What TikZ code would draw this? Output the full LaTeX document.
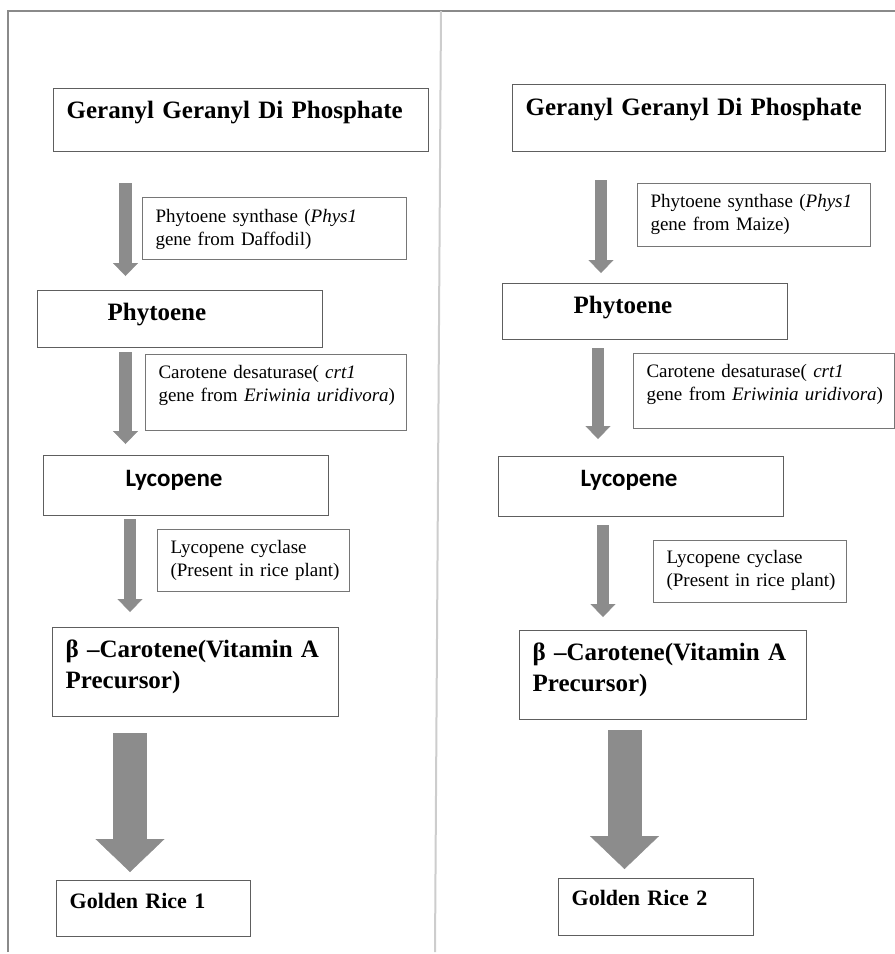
\documentclass[tikz,border=0pt]{standalone}
\usepackage{fontspec}
\setmainfont{Liberation Serif}
\newfontfamily\lycfont{Carlito}
\usetikzlibrary{arrows.meta}

\definecolor{boxline}{HTML}{5E5E5E}
\definecolor{arrowgray}{HTML}{8C8C8C}
\definecolor{frameline}{HTML}{8A8A8A}
\definecolor{divline}{HTML}{CDCDCD}

\begin{document}
\begin{tikzpicture}[
  x=1pt, y=-1pt,
  stagebox/.style = {rectangle, draw=boxline, line width=1.3pt,
                     anchor=north west, inner sep=0pt, align=left,
                     font=\fontsize{25}{31}\selectfont\bfseries},
  enzbox/.style   = {rectangle, draw=boxline!85, line width=1.1pt,
                     anchor=north west, inner sep=0pt, align=left,
                     font=\fontsize{19}{23}\selectfont},
  textindent/.style = {execute at begin node={\leftskip=#1}},
  arr/.style    = {line width=12.5pt, arrowgray,
                   -{Triangle[width=25pt,length=13pt,line width=0.4pt]}},
  bigarr/.style = {line width=34pt, arrowgray,
                   -{Triangle[width=69pt,length=33pt,line width=0.4pt]}},
]
\useasboundingbox (0,0) rectangle (895,954);

%% frame of the two panels
\draw[frameline, line width=1.3pt] (8,952) -- (8,11) -- (895,11);
\draw[divline, line width=2pt] (441,11) -- (435,952);

%%-----------------------------------------------------------
%% left panel -- Golden Rice 1
%%-----------------------------------------------------------
\node[stagebox, textindent=13pt, text width=375pt,
      text height=30pt, text depth=33pt] (ggpp1) at (53,88)
  {Geranyl Geranyl Di Phosphate};

\node[enzbox, textindent=13pt, text width=264pt,
      text height=25pt, text depth=37pt] (psy1) at (142,197)
  {Phytoene synthase (\textit{Phys1}\\gene from Daffodil)};

\node[stagebox, textindent=70pt, text width=285pt,
      text height=30pt, text depth=27pt] (phyt1) at (37,290)
  {Phytoene};

\node[enzbox, textindent=13pt, text width=261pt,
      text height=24pt, text depth=52pt] (crt1) at (145,354)
  {Carotene desaturase( \textit{crt1}\\gene from \textit{Eriwinia uridivora})};

\node[stagebox, font=\fontsize{25}{31}\selectfont\lycfont\bfseries,
      textindent=82pt, text width=285pt,
      text height=31pt, text depth=29pt] (lyco1) at (43,455)
  {Lycopene};

\node[enzbox, textindent=13pt, text width=192pt,
      text height=24pt, text depth=38pt] (lcy1) at (157,529)
  {Lycopene cyclase\\(Present in rice plant)};

\node[stagebox, textindent=13pt, text width=286pt,
      text height=30pt, text depth=59pt] (bcar1) at (52,627)
  {β –Carotene(Vitamin A\\Precursor)};

\node[stagebox, font=\fontsize{22}{27}\selectfont\bfseries,
      textindent=13pt, text width=194pt,
      text height=28pt, text depth=28pt] (gold1) at (56,880)
  {Golden Rice 1};

\draw[arr] ([xshift=72.5pt,yshift=-31pt]ggpp1.south west)
        -- ([xshift=88.5pt,yshift=14pt]phyt1.north west);
\draw[arr] ([xshift=88.5pt,yshift=-4pt]phyt1.south west)
        -- ([xshift=82.5pt,yshift=11pt]lyco1.north west);
\draw[arr] ([xshift=87pt,yshift=-3pt]lyco1.south west)
        -- ([xshift=78pt,yshift=15pt]bcar1.north west);
\draw[bigarr] ([xshift=78pt,yshift=-16pt]bcar1.south west)
           -- ([xshift=74pt,yshift=8pt]gold1.north west);

%%-----------------------------------------------------------
%% right panel -- Golden Rice 2
%%-----------------------------------------------------------
\node[stagebox, textindent=13pt, text width=373pt,
      text height=31pt, text depth=36pt] (ggpp2) at (512,84)
  {Geranyl Geranyl Di Phosphate};

\node[enzbox, textindent=13pt, text width=233pt,
      text height=24pt, text depth=39pt] (psy2) at (637,183)
  {Phytoene synthase (\textit{Phys1}\\gene from Maize)};

\node[stagebox, textindent=71pt, text width=285pt,
      text height=30pt, text depth=26pt] (phyt2) at (502,283)
  {Phytoene};

\node[enzbox, textindent=13pt, text width=261pt,
      text height=24pt, text depth=51pt] (crt2) at (633,353)
  {Carotene desaturase( \textit{crt1}\\gene from \textit{Eriwinia uridivora})};

\node[stagebox, font=\fontsize{25}{31}\selectfont\lycfont\bfseries,
      textindent=82pt, text width=285pt,
      text height=30pt, text depth=30pt] (lyco2) at (498,456)
  {Lycopene};

\node[enzbox, textindent=13pt, text width=193pt,
      text height=23pt, text depth=39pt] (lcy2) at (653,540)
  {Lycopene cyclase\\(Present in rice plant)};

\node[stagebox, textindent=13pt, text width=287pt,
      text height=30pt, text depth=59pt] (bcar2) at (519,630)
  {β –Carotene(Vitamin A\\Precursor)};

\node[stagebox, font=\fontsize{22}{27}\selectfont\bfseries,
      textindent=13pt, text width=195pt,
      text height=27pt, text depth=30pt] (gold2) at (558,878)
  {Golden Rice 2};

\draw[arr] ([xshift=89pt,yshift=-28pt]ggpp2.south west)
        -- ([xshift=99pt,yshift=10pt]phyt2.north west);
\draw[arr] ([xshift=96pt,yshift=-8pt]phyt2.south west)
        -- ([xshift=100pt,yshift=17pt]lyco2.north west);
\draw[arr] ([xshift=105pt,yshift=-8pt]lyco2.south west)
        -- ([xshift=84pt,yshift=13pt]bcar2.north west);
\draw[bigarr] ([xshift=105.5pt,yshift=-10pt]bcar2.south west)
           -- ([xshift=66.5pt,yshift=9pt]gold2.north west);

\end{tikzpicture}
\end{document}
